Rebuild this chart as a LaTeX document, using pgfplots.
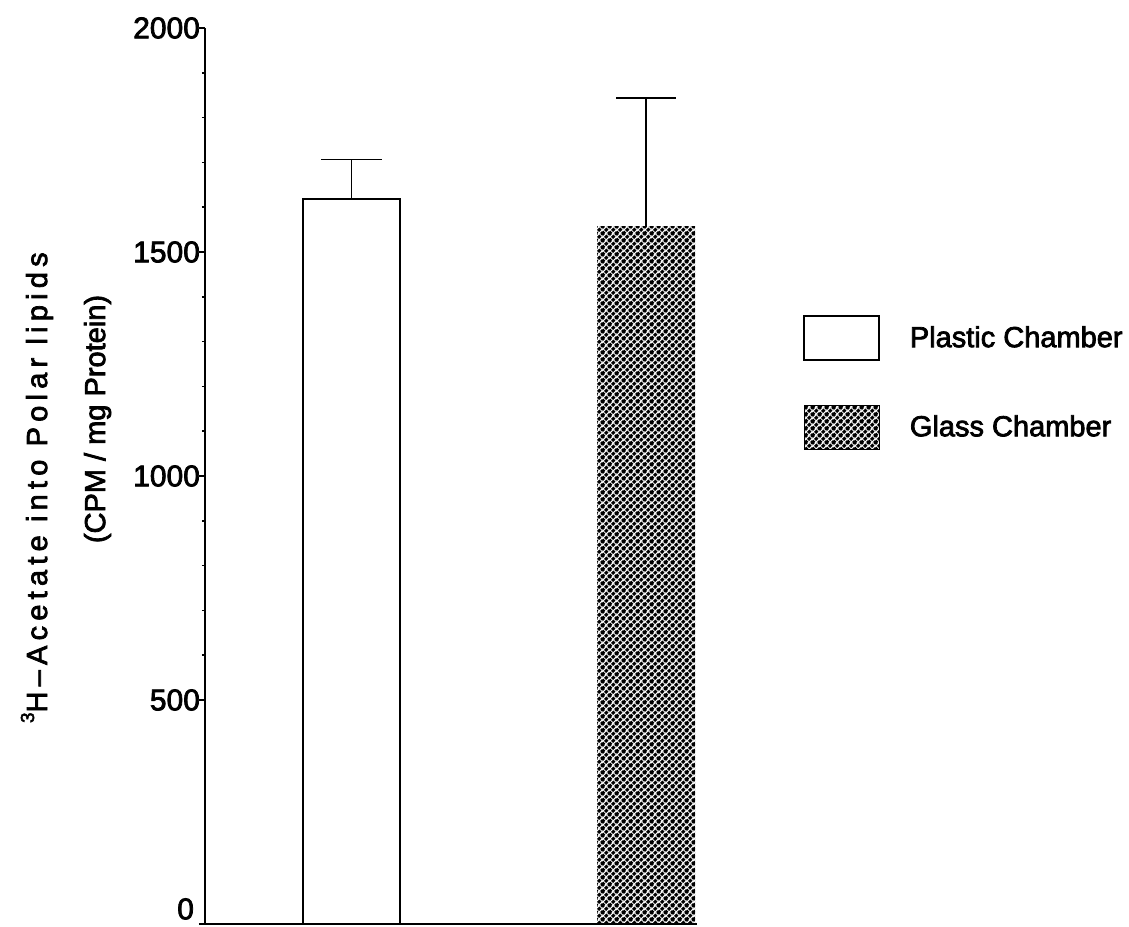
\documentclass[border=0pt]{standalone}
\usepackage{fontspec}
\setmainfont{Liberation Sans}[FakeBold=2.5]
\usepackage{pgfplots}
\pgfplotsset{compat=1.18}
\usetikzlibrary{patterns.meta}

\tikzdeclarepattern{
  name=glassdots,
  type=uncolored,
  bounding box={(0pt,0pt) and (3.5pt,3.5pt)},
  tile size={(3.5pt,3.5pt)},
  code={
    \draw[line width=1.7pt, dash pattern=on 1.85pt off 0.625pt] (-3.5pt,-3.5pt) -- (7pt,7pt);
    \draw[line width=1.7pt, dash pattern=on 1.85pt off 0.625pt] (-3.5pt,0pt) -- (7pt,10.5pt);
    \draw[line width=1.7pt, dash pattern=on 1.85pt off 0.625pt] (0pt,-3.5pt) -- (10.5pt,7pt);
  }
}

\begin{document}
\begin{tikzpicture}
\begin{axis}[
  at={(0pt,0pt)}, anchor=south west,
  scale only axis, width=246pt, height=448pt,
  xmin=0, xmax=492, ymin=0, ymax=2000,
  axis lines=left,
  axis line style={-, line width=1pt, black},
  xtick=\empty,
  ytick={500,1000,1500,2000},
  extra y ticks={0},
  extra y tick style={yticklabel style={anchor=south east, inner ysep=0pt, xshift=-3pt, yshift=2pt}},
  minor y tick num=4,
  tick align=outside,
  major tick length=3pt, minor tick length=1.5pt,
  tick style={line width=0.8pt, black},
  /pgf/number format/assume math mode=true,
  /pgf/number format/1000 sep={},
  yticklabel style={font=\fontsize{15}{18}\selectfont, xshift=4pt},
  clip=false,
  legend style={at={(1.2154,0.6797)}, anchor=north west, draw=none, fill=none,
    inner sep=0pt, row sep=22pt, column sep=15pt,
    font=\fontsize{14.5}{17}\selectfont, nodes={inner sep=0pt}},
  legend cell align=left,
]
\addlegendimage{legend image code/.code={\draw[fill=white, draw=black, line width=0.75pt] (0pt,-11pt) rectangle (37.5pt,11pt);}}
\addlegendentry{Plastic Chamber}
\addlegendimage{legend image code/.code={\fill[pattern=glassdots, pattern color=black] (0pt,-11pt) rectangle (37.5pt,11pt);}}
\addlegendentry{Glass Chamber}

\addplot[ybar, bar shift=0pt, bar width=97, fill=white, draw=black, line width=0.75pt, forget plot,
  error bars/.cd, y dir=plus, y explicit,
  error bar style={line width=0.75pt, draw=black},
  error mark options={rotate=90, mark size=15pt, line width=0.75pt, draw=black}]
  coordinates {(146.5,1618) +- (0,89)};

\addplot[ybar, bar shift=0pt, bar width=98, draw=none, pattern=glassdots, pattern color=black, forget plot,
  error bars/.cd, y dir=plus, y explicit,
  error bar style={line width=0.75pt, draw=black},
  error mark options={rotate=90, mark size=15pt, line width=0.75pt, draw=black}]
  coordinates {(441,1556) +- (0,288)};

\node[rotate=90, anchor=base, font=\fontsize{14.5}{17}\selectfont] at (rel axis cs:-0.321,0.487)
  {\addfontfeature{LetterSpace=18}\raisebox{6.5pt}{\fontsize{9.5}{11}\selectfont 3}H--Acetate into Polar lipids};
\node[rotate=90, anchor=base, font=\fontsize{14.5}{17}\selectfont] at (rel axis cs:-0.203,0.5636)
  {(CPM / mg Protein)};
\end{axis}
\pgfresetboundingbox
\path[use as bounding box] (-102.5pt,-1pt) rectangle (462pt,462pt);
\end{tikzpicture}
\end{document}
